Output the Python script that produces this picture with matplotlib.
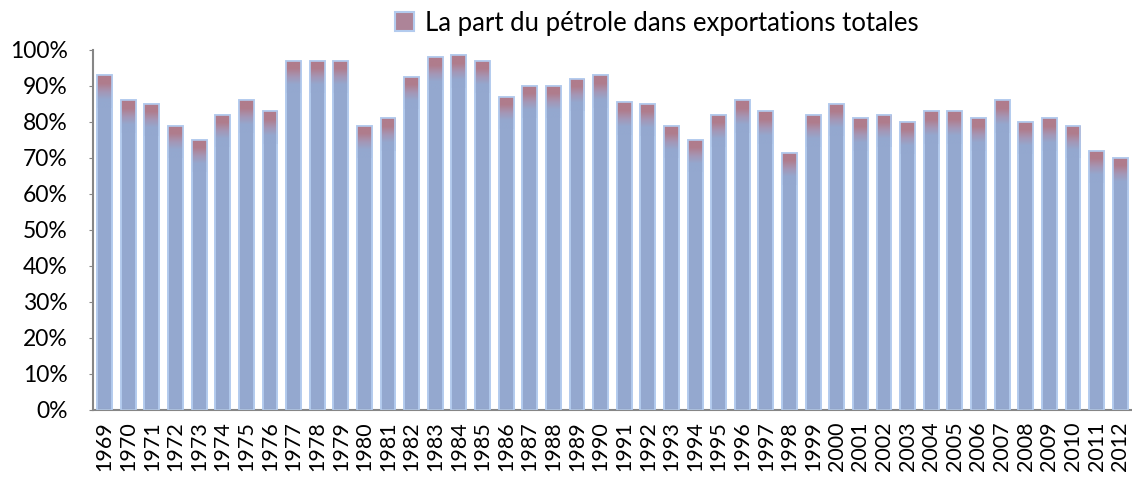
import numpy as np
import matplotlib
matplotlib.use('Agg')
import matplotlib.pyplot as plt
from matplotlib.colors import LinearSegmentedColormap
from matplotlib.patches import Rectangle

years = [str(y) for y in range(1969, 2013)]
part_petrole = [93, 86, 85, 79, 75, 82, 86, 83, 97, 97, 97, 79, 81, 92.5,
                98, 98.5, 97, 87, 90, 90, 92, 93, 85.5, 85, 79, 75, 82, 86,
                83, 71.5, 82, 85, 81, 82, 80, 83, 83, 81, 86, 80, 81, 79,
                72, 70]
label = 'La part du pétrole dans exportations totales'

plt.rcParams['font.family'] = ['Lato', 'DejaVu Sans']
blue = '#94a8cf'
red = '#b07c8c'
edge = '#b3cbee'
grad = LinearSegmentedColormap.from_list('g', [blue, blue, '#a596b5', red, red])

fig = plt.figure(figsize=(11.32, 4.8), dpi=100)
ax = fig.add_axes([0.082, 0.146, 0.918, 0.75])
x = np.arange(len(years))
bars = ax.bar(x, part_petrole, width=0.63, color=blue, edgecolor=edge,
              linewidth=1.2, zorder=2)

# red tint fading into blue near the top of each bar
for b in bars:
    h = b.get_height()
    x0 = b.get_x()
    w = b.get_width()
    top = 9.0
    g = np.linspace(0, 1, 100).reshape(-1, 1)
    im = ax.imshow(g, cmap=grad, aspect='auto', origin='lower',
                   extent=(x0, x0 + w, h - top, h), zorder=3,
                   interpolation='bicubic')
    im.set_clip_path(b)
    ax.add_patch(Rectangle((x0, 0), w, h, fill=False, edgecolor=edge,
                           linewidth=1.2, zorder=4))

ax.set_xlim(-0.5, len(years) - 0.5)
ax.set_ylim(0, 100)
ax.set_yticks(range(0, 101, 10))
ax.set_yticklabels([f'{v}%' for v in range(0, 101, 10)], fontsize=16.5)
ax.set_xticks(x)
ax.set_xticklabels(years, rotation=90, fontsize=15.5)
ax.tick_params(axis='x', length=0, pad=8)
ax.tick_params(axis='y', length=3, color='#868686', pad=15)
for s in ['top', 'right']:
    ax.spines[s].set_visible(False)
for s in ['left', 'bottom']:
    ax.spines[s].set_color('#868686')
    ax.spines[s].set_linewidth(1.5)

handle = Rectangle((0, 0), 1, 1, facecolor='#ad8498', edgecolor=edge,
                   linewidth=1.5)
leg = fig.legend([handle], [label], loc='center',
                 bbox_to_anchor=(0.58, 0.952), frameon=False, fontsize=18.5,
                 handlelength=0.75, handleheight=0.75, handletextpad=0.4,
                 borderpad=0)

fig.savefig('out.png', dpi=100)
